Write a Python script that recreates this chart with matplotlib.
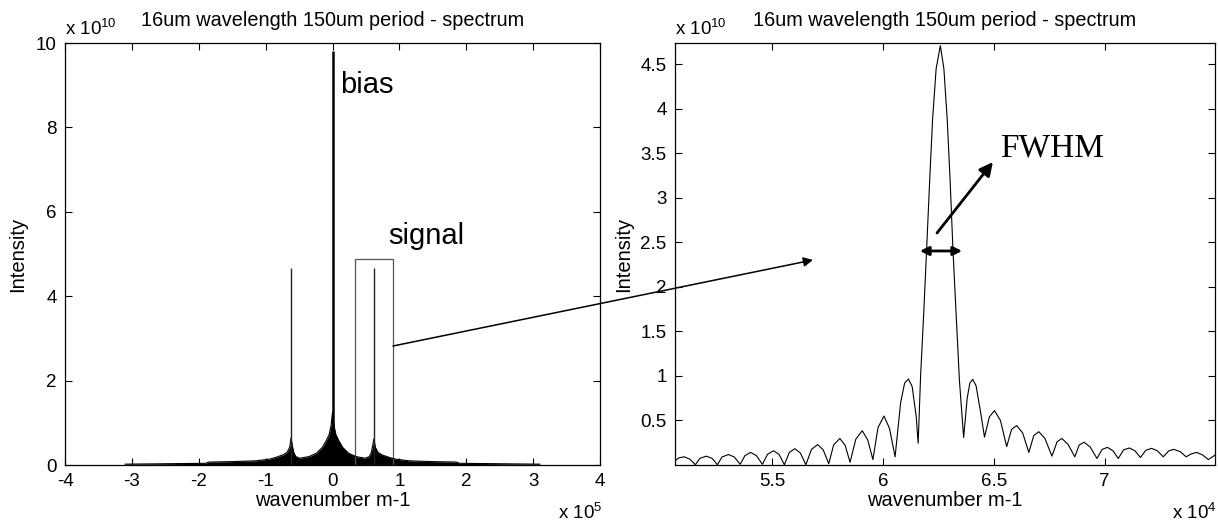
"""Spectrum of 16um wavelength / 150um period grating: full view and zoom on the signal peak."""

import matplotlib
matplotlib.use("Agg")
import matplotlib.pyplot as plt
from matplotlib.patches import Rectangle

plt.rcParams["font.family"] = ["Liberation Sans", "DejaVu Sans"]
plt.rcParams["mathtext.fontset"] = "custom"
plt.rcParams["mathtext.rm"] = "Liberation Sans"
plt.rcParams["mathtext.it"] = "Liberation Sans:italic"
plt.rcParams["axes.unicode_minus"] = False

W, H = 1218, 524
TITLE = "16um wavelength 150um period - spectrum"
TICK_FS = 13.5
LABEL_FS = 14.5
TITLE_FS = 14.3

# ---------------------------------------------------------------------------
# Data
# ---------------------------------------------------------------------------

# full spectrum envelope: x in 1e5 m-1, intensity in 1e10
full_x = [-3.10, -2.50, -1.90, -1.85, -1.50, -1.14, -0.94, -0.85, -0.74, -0.68,
          -0.64, -0.62, -0.60, -0.58, -0.55, -0.49, -0.35, -0.24, -0.15, -0.09,
          -0.05, -0.02, 0.00, 0.02, 0.05, 0.09, 0.15, 0.24, 0.35, 0.49,
          0.55, 0.58, 0.60, 0.62, 0.64, 0.68, 0.74, 0.85, 0.94, 1.14,
          1.50, 1.85, 1.90, 2.50, 3.10]
full_env = [0.02, 0.03, 0.04, 0.07, 0.08, 0.10, 0.14, 0.18, 0.24, 0.30,
            0.42, 0.64, 0.45, 0.30, 0.20, 0.16, 0.20, 0.28, 0.42, 0.59,
            0.72, 0.95, 1.25, 0.95, 0.72, 0.59, 0.42, 0.28, 0.20, 0.16,
            0.20, 0.30, 0.45, 0.62, 0.42, 0.30, 0.24, 0.18, 0.14, 0.10,
            0.08, 0.07, 0.04, 0.03, 0.02]

# narrow spikes: bias at 0, signal peaks at +-0.62e5
spike_x = [-0.62, 0.0, 0.62]
spike_top = [4.68, 9.80, 4.68]

# zoom on the signal peak: x in 1e4 m-1, intensity in 1e10
zoom_x = [5.063, 5.080, 5.105, 5.130, 5.155, 5.175, 5.204, 5.230, 5.254, 5.275,
          5.304, 5.330, 5.357, 5.378, 5.404, 5.430, 5.457, 5.480, 5.507, 5.532,
          5.556, 5.578, 5.603, 5.628, 5.653, 5.678, 5.706, 5.731, 5.756, 5.778,
          5.806, 5.830, 5.852, 5.878, 5.907, 5.932, 5.955, 5.978, 6.005, 6.030,
          6.055, 6.080, 6.098, 6.115, 6.132, 6.150, 6.159, 6.170, 6.184, 6.197,
          6.211, 6.224, 6.240, 6.259, 6.275, 6.290, 6.303, 6.316, 6.330, 6.345,
          6.364, 6.380, 6.392, 6.405, 6.420, 6.440, 6.458, 6.480, 6.503, 6.530,
          6.558, 6.580, 6.603, 6.630, 6.658, 6.680, 6.703, 6.730, 6.762, 6.785,
          6.807, 6.835, 6.865, 6.885, 6.907, 6.935, 6.965, 6.988, 7.012, 7.037,
          7.061, 7.085, 7.111, 7.136, 7.161, 7.185, 7.211, 7.237, 7.264, 7.288,
          7.311, 7.340, 7.367, 7.390, 7.414, 7.440, 7.467, 7.497]
zoom_y = [0.046, 0.080, 0.092, 0.065, 0.003, 0.075, 0.099, 0.075, 0.003, 0.090,
          0.118, 0.090, 0.008, 0.105, 0.141, 0.105, 0.008, 0.120, 0.160, 0.120,
          0.002, 0.140, 0.183, 0.135, 0.003, 0.175, 0.229, 0.170, 0.015, 0.225,
          0.298, 0.220, 0.031, 0.290, 0.385, 0.280, 0.061, 0.420, 0.550, 0.410,
          0.092, 0.700, 0.920, 0.966, 0.880, 0.550, 0.244, 1.000, 1.700, 2.410,
          3.200, 3.880, 4.450, 4.710, 4.450, 3.880, 3.200, 2.410, 1.700, 0.950,
          0.309, 0.750, 0.920, 0.962, 0.890, 0.600, 0.313, 0.540, 0.611, 0.500,
          0.206, 0.400, 0.443, 0.360, 0.141, 0.330, 0.374, 0.300, 0.099, 0.260,
          0.298, 0.230, 0.092, 0.225, 0.256, 0.200, 0.073, 0.175, 0.198, 0.160,
          0.073, 0.170, 0.191, 0.160, 0.084, 0.165, 0.187, 0.160, 0.092, 0.158,
          0.176, 0.150, 0.092, 0.125, 0.141, 0.115, 0.061, 0.111]

full_xticks = [-4, -3, -2, -1, 0, 1, 2, 3, 4]
full_yticks = [0, 2, 4, 6, 8, 10]
zoom_xticks = [5.5, 6, 6.5, 7]
zoom_yticks = [0.5, 1, 1.5, 2, 2.5, 3, 3.5, 4, 4.5]


def px(x, y):
    """pixel position -> figure fraction"""
    return x / W, 1 - y / H


def style_axes(ax, ylabel_x):
    for s in ax.spines.values():
        s.set_linewidth(0.9)
        s.set_color("black")
    ax.tick_params(direction="in", length=5, width=0.8, top=True, right=True,
                   labelsize=TICK_FS, pad=6, colors="black")
    ax.set_ylabel("Intensity", fontsize=LABEL_FS)
    ax.yaxis.set_label_coords(ylabel_x, 0.5)
    ax.yaxis.label.set_va("center")
    ax.set_xlabel("wavenumber m-1", fontsize=LABEL_FS)
    ax.xaxis.set_label_coords(0.5, -0.083)
    ax.xaxis.label.set_va("center")


fig = plt.figure(figsize=(W / 100, H / 100), dpi=100)
ax1 = fig.add_axes([65 / W, 1 - 465 / H, 535 / W, 422 / H])
ax2 = fig.add_axes([675 / W, 1 - 465 / H, 540 / W, 422 / H])

# --- full spectrum ---
ax1.fill_between(full_x, 0, full_env, color="black", lw=0)
ax1.plot(full_x, full_env, color="black", lw=0.8)
ax1.vlines(spike_x, 0, spike_top, colors=["#222222", "black", "#222222"],
           linewidth=[1.0, 1.8, 1.0])
ax1.add_patch(Rectangle((0.34, 0), 0.56, 4.88, fill=False, ec="#555555", lw=0.9))
ax1.set_xlim(-4, 4)
ax1.set_ylim(0, 10)
ax1.set_xticks(full_xticks)
ax1.set_yticks(full_yticks)
style_axes(ax1, -0.088)
ax1.text(0.112, 8.815, "bias", fontsize=21, va="baseline")
ax1.text(0.830, 5.24, "signal", fontsize=21, va="baseline")

# --- zoom on signal ---
ax2.plot(zoom_x, zoom_y, color="black", lw=0.8)
ax2.set_xlim(5.063, 7.497)
ax2.set_ylim(0, 4.74)
ax2.set_xticks(zoom_xticks)
ax2.set_xticklabels([f"{v:g}" for v in zoom_xticks])
ax2.set_yticks(zoom_yticks)
ax2.set_yticklabels([f"{v:g}" for v in zoom_yticks])
style_axes(ax2, -0.096)

# annotations
ax2.annotate("", xy=(5.685, 2.303), xycoords="data",
             xytext=(0.905, 2.82), textcoords=ax1.transData,
             arrowprops=dict(arrowstyle="-|>", lw=1.1, color="black",
                             mutation_scale=14, shrinkA=0, shrinkB=0),
             annotation_clip=False)
ax2.annotate("", xy=(6.167, 2.404), xytext=(6.357, 2.404),
             arrowprops=dict(arrowstyle="<|-|>", lw=2, color="black",
                             mutation_scale=13, shrinkA=0, shrinkB=0))
ax2.annotate("", xy=(6.496, 3.403), xytext=(6.244, 2.606),
             arrowprops=dict(arrowstyle="-|>", lw=2, color="black",
                             mutation_scale=20, shrinkA=0, shrinkB=0))
ax2.text(6.528, 3.46, "FWHM", fontsize=24, va="baseline",
         family=["Liberation Serif", "DejaVu Serif"])

# titles and MATLAB-style exponent labels
fig.text(*px(332.5, 21), TITLE, ha="center", va="center", fontsize=TITLE_FS)
fig.text(*px(945, 21), TITLE, ha="center", va="center", fontsize=TITLE_FS)
fig.text(*px(65, 35), "x 10$^{10}$", ha="left", va="baseline", fontsize=TICK_FS)
fig.text(*px(675, 35), "x 10$^{10}$", ha="left", va="baseline", fontsize=TICK_FS)
fig.text(*px(602, 519), "x 10$^{5}$", ha="right", va="baseline", fontsize=TICK_FS)
fig.text(*px(1217, 519), "x 10$^{4}$", ha="right", va="baseline", fontsize=TICK_FS)

fig.savefig("out.png", dpi=100)
plt.close(fig)
